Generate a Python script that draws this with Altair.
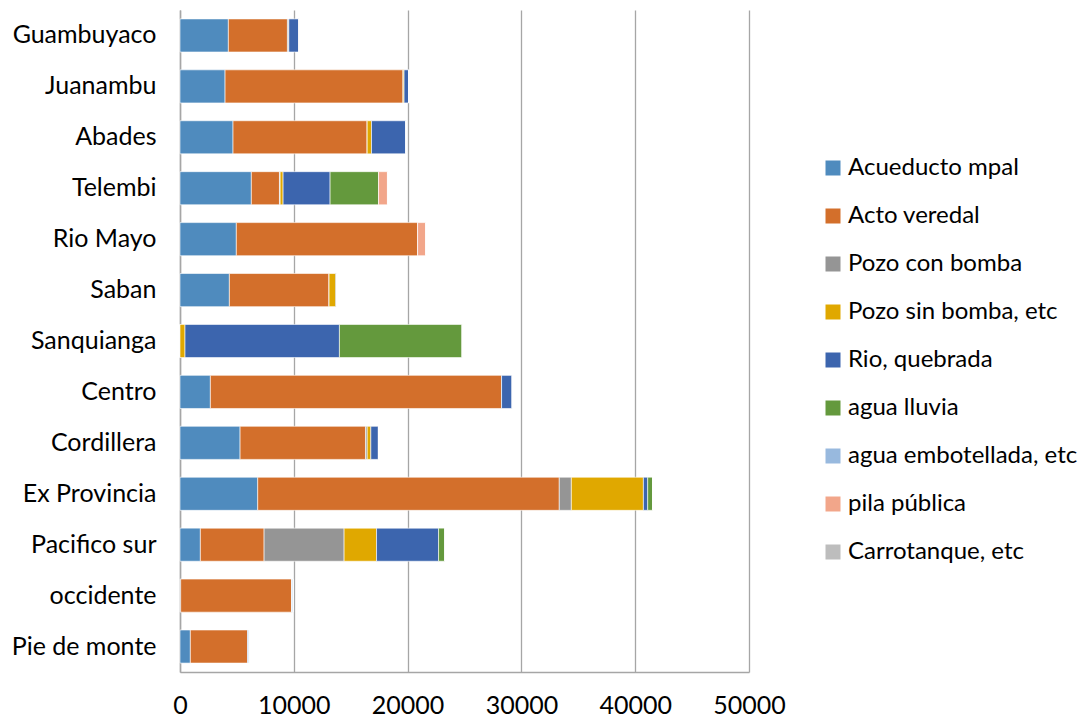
import altair as alt
import pandas as pd

categories = ["Guambuyaco", "Juanambu", "Abades", "Telembi", "Rio Mayo", "Saban",
              "Sanquianga", "Centro", "Cordillera", "Ex Provincia", "Pacifico sur",
              "occidente", "Pie de monte"]

series_names = ["Acueducto mpal", "Acto veredal", "Pozo con bomba", "Pozo sin bomba, etc",
                "Rio, quebrada", "agua lluvia", "agua embotellada, etc", "pila pública",
                "Carrotanque, etc"]

acueducto = [4250, 3960, 4660, 6270, 4950, 4340, 0, 2670, 5280, 6830, 1790, 60, 910]
acto_veredal = [5190, 15650, 11790, 2470, 15930, 8760, 0, 25590, 11020, 26500, 5600, 9760, 5040]
pozo_con = [120, 0, 0, 60, 0, 0, 0, 0, 150, 1060, 7030, 0, 0]
pozo_sin = [0, 80, 380, 260, 0, 590, 440, 0, 320, 6330, 2850, 0, 0]
rio = [900, 420, 2990, 4130, 0, 90, 13570, 940, 670, 380, 5450, 0, 90]
lluvia = [0, 0, 0, 4260, 0, 0, 10790, 0, 0, 440, 560, 0, 0]
embotellada = [0, 0, 60, 0, 0, 0, 0, 0, 0, 0, 0, 120, 90]
pila = [0, 0, 0, 780, 700, 0, 0, 0, 0, 0, 0, 0, 0]
carrotanque = [0, 0, 0, 0, 0, 0, 0, 0, 0, 0, 0, 0, 0]

colors = ["#4F8BBE", "#D36F2B", "#959595", "#E0A800", "#3C65AE", "#64993D",
          "#98B9DE", "#F2A68A", "#BDBDBD"]

x_ticks = [0, 10000, 20000, 30000, 40000, 50000]

all_series = [acueducto, acto_veredal, pozo_con, pozo_sin, rio, lluvia,
              embotellada, pila, carrotanque]

rows = []
for si, (name, vals) in enumerate(zip(series_names, all_series)):
    for cat, v in zip(categories, vals):
        rows.append({"zona": cat, "fuente": name, "valor": v, "orden": si})
df = pd.DataFrame(rows)

FONT = "Lato"
FS = 25

chart = alt.Chart(df).mark_bar(stroke="white", strokeWidth=0.6).encode(
    y=alt.Y("zona:N", sort=categories, title=None,
            scale=alt.Scale(paddingInner=0.35, paddingOuter=0.175),
            axis=alt.Axis(ticks=False, labelPadding=24, labelFontSize=FS,
                          labelColor="black", labelFont=FONT, grid=False,
                          domainColor="#A6A6A6", domainWidth=1.5)),
    x=alt.X("valor:Q", stack="zero", title=None,
            scale=alt.Scale(domain=[0, 50000], nice=False),
            axis=alt.Axis(values=x_ticks, ticks=False, labelPadding=21, labelFontSize=FS,
                          labelColor="black", labelFont=FONT, grid=True, labelFlush=False,
                          gridColor="#A6A6A6", gridWidth=1.3,
                          domainColor="#A6A6A6", domainWidth=1.5, format="d")),
    color=alt.Color("fuente:N", title=None,
                    scale=alt.Scale(domain=series_names, range=colors),
                    legend=alt.Legend(orient="none", legendX=641, legendY=146,
                                      symbolType="square", symbolSize=225,
                                      symbolStrokeWidth=0, labelFontSize=24,
                                      labelFont=FONT, labelColor="black",
                                      labelOffset=3, rowPadding=24, padding=0,
                                      labelLimit=400)),
    order=alt.Order("orden:Q", sort="ascending"),
).properties(
    width=569, height=662,
    autosize=alt.AutoSizeParams(type="none"),
    padding={"left": 172, "top": 2, "right": 334, "bottom": 47},
).configure_view(stroke=None)

chart.save("out.html", embed_options={"renderer": "svg", "actions": False})
